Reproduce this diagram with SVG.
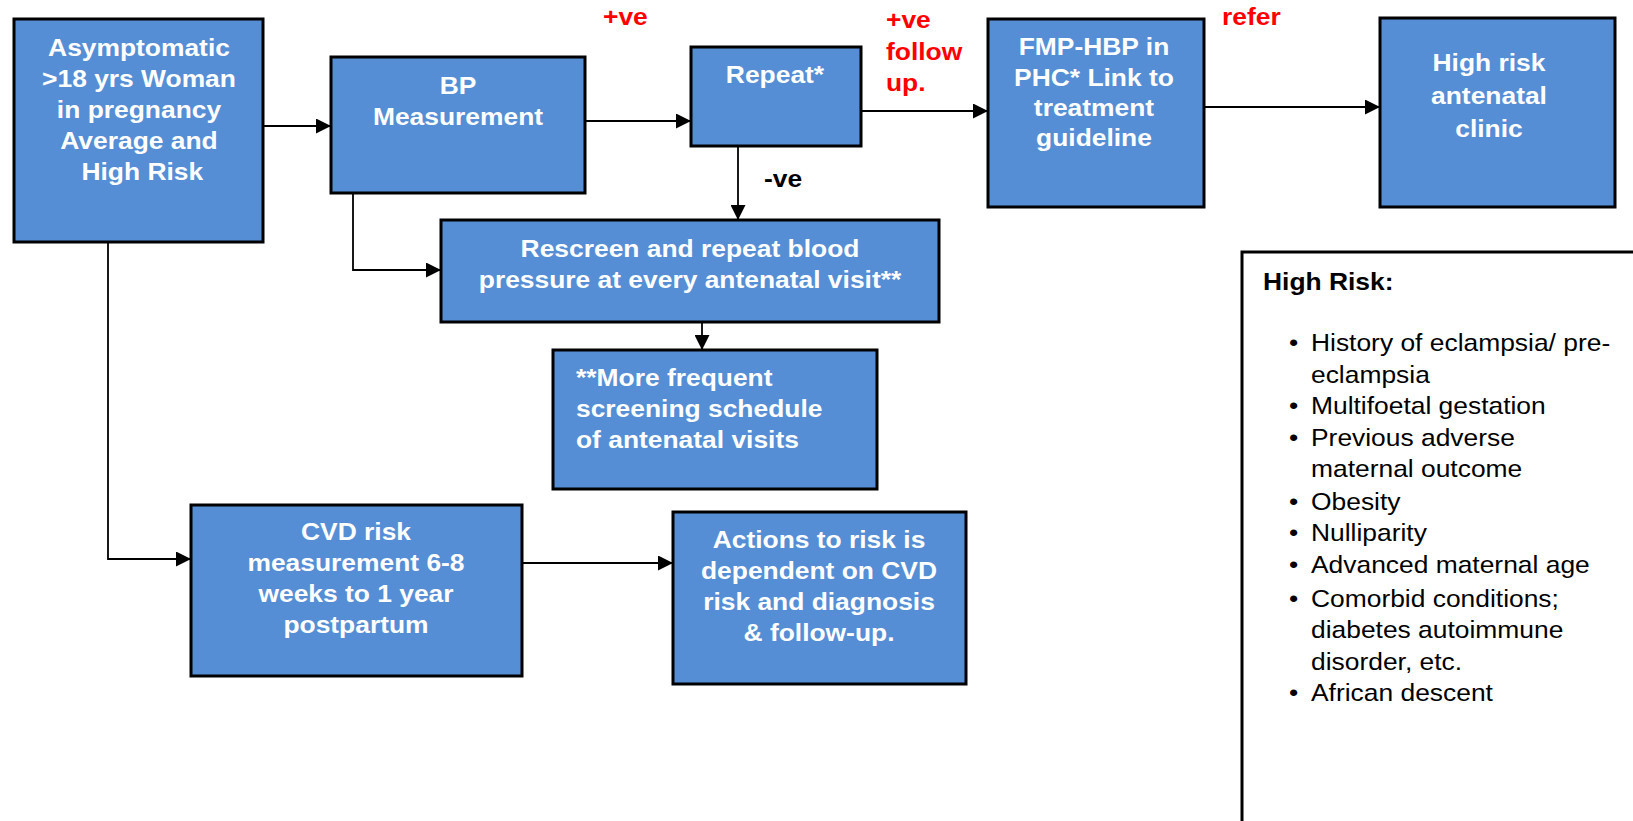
<svg xmlns="http://www.w3.org/2000/svg" width="1633" height="821" viewBox="0 0 1633 821">
<defs>
<style>
.box{fill:#558ED5;stroke:#000;stroke-width:3}
.t{font-family:"Liberation Sans",Arial,sans-serif;font-weight:bold;font-size:24px;fill:#fff;text-anchor:middle}
.tl{font-family:"Liberation Sans",Arial,sans-serif;font-weight:bold;font-size:24px;fill:#fff}
.red{font-family:"Liberation Sans",Arial,sans-serif;font-weight:bold;font-size:24px;fill:#FF0000}
.blk{font-family:"Liberation Sans",Arial,sans-serif;font-weight:bold;font-size:24px;fill:#000}
.li{font-family:"Liberation Sans",Arial,sans-serif;font-size:24px;fill:#000}
.c{fill:none;stroke:#000;stroke-width:1.8;marker-end:url(#ah)}
</style>
<marker id="ah" markerUnits="userSpaceOnUse" markerWidth="15" markerHeight="15" refX="15" refY="7.5" orient="auto">
<path d="M0,0 L15,7.5 L0,15 z" fill="#000"/>
</marker>
</defs>
<rect width="1633" height="821" fill="#fff"/>

<g id="connectors">
<path class="c" d="M263,126 H331"/>
<path class="c" d="M585,121 H691"/>
<path class="c" d="M861,111 H988"/>
<path class="c" d="M1204,107 H1380"/>
<path class="c" d="M738,146 V220"/>
<path class="c" d="M353,193 V270 H441"/>
<path class="c" d="M702,322 V350"/>
<path class="c" d="M108,242 V559 H191"/>
<path class="c" d="M522,563 H673"/>
</g>

<g id="labels">
<text class="red" x="603" y="25" transform="matrix(1.1 0 0 1 -60.3 0)">+ve</text>
<g transform="matrix(1.1 0 0 1 -88.6 0)">
<text class="red" x="886" y="28">+ve</text>
<text class="red" x="886" y="60">follow</text>
<text class="red" x="886" y="91">up.</text>
</g>
<text class="red" x="1222" y="25" transform="matrix(1.1 0 0 1 -122.2 0)">refer</text>
<text class="blk" x="764" y="187" transform="matrix(1.1 0 0 1 -76.4 0)">-ve</text>
</g>

<g id="n-asymptomatic">
<rect class="box" x="14" y="19" width="249" height="223"/>
<g transform="matrix(1.1 0 0 1 -13.9 0)">
<text class="t" x="139" y="56">Asymptomatic</text>
<text class="t" x="139" y="87">&gt;18 yrs Woman</text>
<text class="t" x="139" y="118">in pregnancy</text>
<text class="t" x="139" y="149">Average and</text>
<text class="t" x="142" y="180">High Risk</text>
</g>
</g>

<g id="n-bp">
<rect class="box" x="331" y="57" width="254" height="136"/>
<g transform="matrix(1.1 0 0 1 -45.8 0)">
<text class="t" x="458" y="94">BP</text>
<text class="t" x="458" y="125">Measurement</text>
</g>
</g>

<g id="n-repeat">
<rect class="box" x="691" y="47" width="170" height="99"/>
<text class="t" x="775" y="83" transform="matrix(1.1 0 0 1 -77.5 0)">Repeat*</text>
</g>

<g id="n-fmp">
<rect class="box" x="988" y="19" width="216" height="188"/>
<g transform="matrix(1.1 0 0 1 -109.4 0)">
<text class="t" x="1094" y="55">FMP-HBP in</text>
<text class="t" x="1094" y="86">PHC* Link to</text>
<text class="t" x="1094" y="116">treatment</text>
<text class="t" x="1094" y="146">guideline</text>
</g>
</g>

<g id="n-hrclinic">
<rect class="box" x="1380" y="18" width="235" height="189"/>
<g transform="matrix(1.1 0 0 1 -148.9 0)">
<text class="t" x="1489" y="71">High risk</text>
<text class="t" x="1489" y="104">antenatal</text>
<text class="t" x="1489" y="137">clinic</text>
</g>
</g>

<g id="n-rescreen">
<rect class="box" x="441" y="220" width="498" height="102"/>
<g transform="matrix(1.1 0 0 1 -69 0)">
<text class="t" x="690" y="257">Rescreen and repeat blood</text>
<text class="t" x="690" y="288">pressure at every antenatal visit**</text>
</g>
</g>

<g id="n-frequent">
<rect class="box" x="553" y="350" width="324" height="139"/>
<g transform="matrix(1.1 0 0 1 -57.6 0)">
<text class="tl" x="576" y="386">**More frequent</text>
<text class="tl" x="576" y="417">screening schedule</text>
<text class="tl" x="576" y="448">of antenatal visits</text>
</g>
</g>

<g id="n-cvd">
<rect class="box" x="191" y="505" width="331" height="171"/>
<g transform="matrix(1.1 0 0 1 -35.6 0)">
<text class="t" x="356" y="540">CVD risk</text>
<text class="t" x="356" y="571">measurement 6-8</text>
<text class="t" x="356" y="602">weeks to 1 year</text>
<text class="t" x="356" y="633">postpartum</text>
</g>
</g>

<g id="n-actions">
<rect class="box" x="673" y="512" width="293" height="172"/>
<g transform="matrix(1.1 0 0 1 -81.9 0)">
<text class="t" x="819" y="548">Actions to risk is</text>
<text class="t" x="819" y="579">dependent on CVD</text>
<text class="t" x="819" y="610">risk and diagnosis</text>
<text class="t" x="819" y="641">&amp; follow-up.</text>
</g>
</g>

<g id="n-highrisk-panel">
<rect x="1242" y="252" width="420" height="600" fill="#fff" stroke="#000" stroke-width="3"/>
<text class="blk" x="1263" y="290" transform="matrix(1.1 0 0 1 -126.3 0)">High Risk:</text>
<g class="li" transform="matrix(1.1 0 0 1 -131.1 0)">
<text x="1291" y="351">•</text><text x="1311" y="351">History of eclampsia/ pre-</text>
<text x="1311" y="383">eclampsia</text>
<text x="1291" y="414">•</text><text x="1311" y="414">Multifoetal gestation</text>
<text x="1291" y="446">•</text><text x="1311" y="446">Previous adverse</text>
<text x="1311" y="477">maternal outcome</text>
<text x="1291" y="510">•</text><text x="1311" y="510">Obesity</text>
<text x="1291" y="541">•</text><text x="1311" y="541">Nulliparity</text>
<text x="1291" y="573">•</text><text x="1311" y="573">Advanced maternal age</text>
<text x="1291" y="607">•</text><text x="1311" y="607">Comorbid conditions;</text>
<text x="1311" y="638">diabetes autoimmune</text>
<text x="1311" y="670">disorder, etc.</text>
<text x="1291" y="701">•</text><text x="1311" y="701">African descent</text>
</g>
</g>
</svg>
